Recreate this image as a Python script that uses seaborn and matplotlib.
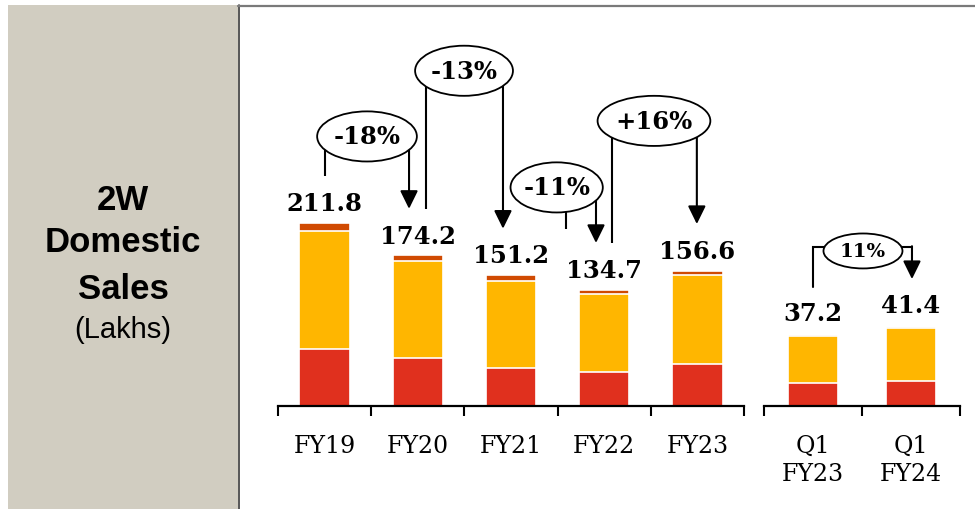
import numpy as np
import pandas as pd
import seaborn as sns
import matplotlib.pyplot as plt
from matplotlib.patches import Ellipse, Rectangle
from matplotlib.lines import Line2D

# data (lakh units)
years = ["FY19", "FY20", "FY21", "FY22", "FY23"]
year_red = [66.0, 55.6, 44.0, 39.4, 48.6]
year_yellow = [137.0, 112.0, 100.7, 90.3, 103.0]
year_top = [8.8, 6.6, 6.5, 5.0, 5.0]
year_totals = [211.8, 174.2, 151.2, 134.7, 156.6]
year_changes = ["-18%", "-13%", "-11%", "+16%"]

quarters = ["Q1\nFY23", "Q1\nFY24"]
q_red = [12.1, 13.2]
q_yellow = [24.6, 28.0]
q_top = [0.5, 0.2]
q_totals = [37.2, 41.4]
q_change = "11%"

RED = "#E0301E"
YELLOW = "#FFB600"
DARK = "#D04A02"

sns.set_style("white")
plt.rcParams["font.family"] = ["DejaVu Serif"]
plt.rcParams["text.color"] = "black"
plt.rcParams["xtick.color"] = "black"
plt.rcParams["xtick.labelcolor"] = "black"

W, H = 975, 510
fig = plt.figure(figsize=(W / 100, H / 100), dpi=100)

# grey title panel on the left
fig.add_artist(Rectangle((8 / W, 0), 230 / W, 1 - 6 / H, transform=fig.transFigure,
                         facecolor="#D1CDC1", edgecolor="none", zorder=0))
fig.add_artist(Line2D([238.5 / W, 238.5 / W], [0, 1 - 6 / H], color="#3a3a3a", lw=1.2))
fig.add_artist(Line2D([238 / W, 1], [1 - 6.5 / H, 1 - 6.5 / H], color="#7a7a7a", lw=1.6))

sans = ["Liberation Sans", "DejaVu Sans"]
for txt, y, bold, fs in [("2W", 201, True, 25), ("Domestic", 243, True, 25),
                         ("Sales", 290, True, 25), ("(Lakhs)", 330, False, 21)]:
    fig.text(123 / W, 1 - y / H, txt, ha="center", va="center", fontsize=fs,
             fontweight="bold" if bold else "normal", family=sans, color="black")

base = 407
ax1 = fig.add_axes([278 / W, (H - base) / H, 466 / W, (base - 8) / H])
ax2 = fig.add_axes([764 / W, (H - base) / H, 196 / W, (base - 8) / H])


def stacked(ax, cats, red, yellow, top, width):
    df = pd.DataFrame({"cat": cats, "red": red, "yellow": yellow, "top": top})
    df["mid"] = df["red"] + df["yellow"]
    df["all"] = df["mid"] + df["top"]
    for col, c in [("all", DARK), ("mid", YELLOW), ("red", RED)]:
        sns.barplot(data=df, x="cat", y=col, order=cats, color=c, saturation=1,
                    width=width, edgecolor="white", linewidth=1.2, ax=ax)
    n = len(cats)
    ax.set_xlim(-0.5, n - 0.5)
    ax.set_xticks(np.arange(n + 1) - 0.5)
    ax.set_xticklabels([])
    ax.set_xticks(range(n), labels=cats, minor=True)
    ax.tick_params(axis="x", which="major", bottom=True, length=7, width=1.5,
                   direction="out", color="black")
    ax.tick_params(axis="x", which="minor", bottom=True, length=0, pad=20,
                   labelsize=17, labelcolor="black")
    for t in ax.get_xticklabels(minor=True):
        t.set_linespacing(1.3)
        t.set_va("top")
    ax.set_yticks([])
    ax.set_xlabel("")
    ax.set_ylabel("")
    for s in ["top", "left", "right"]:
        ax.spines[s].set_visible(False)
    ax.spines["bottom"].set_color("black")
    ax.spines["bottom"].set_linewidth(1.6)
    ax.patch.set_alpha(0)


stacked(ax1, years, year_red, year_yellow, year_top, 0.54)
stacked(ax2, quarters, q_red, q_yellow, q_top, 0.52)
ax1.set_ylim(0, (base - 8) / 0.864)
ax2.set_ylim(0, (base - 8) / 1.9)

for i, v in enumerate(year_totals):
    ax1.text(i, v + 23, f"{v:.1f}", ha="center", va="center", fontsize=17.5, fontweight="bold")
for i, v in enumerate(q_totals):
    ax2.text(i, v + 11.5, f"{v:.1f}", ha="center", va="center", fontsize=17.5, fontweight="bold")


def bubble(ax, label, cx, cy, w, h, fs):
    ax.add_patch(Ellipse((cx, cy), w, h, facecolor="white", edgecolor="black", lw=1.3, zorder=4))
    ax.text(cx, cy, label, ha="center", va="center", fontsize=fs, fontweight="bold", zorder=5)


def arrow(ax, x, y0, y1):
    ax.annotate("", xy=(x, y1), xytext=(x, y0), zorder=3,
                arrowprops=dict(arrowstyle="-|>,head_length=0.55,head_width=0.27",
                                mutation_scale=20, lw=1.5, color="black",
                                shrinkA=0, shrinkB=0))


# bubble centre x, centre y, width, left line x, right arrow x
bubble_layout = [
    (0.455, 312, 1.07, 0.0, 0.906),
    (1.496, 388, 1.05, 1.088, 1.914),
    (2.49, 253, 0.99, 2.586, 2.912),
    (3.534, 330, 1.21, 3.084, 3.994),
]
for i, (label, (cx, cy, w, lx, rx)) in enumerate(zip(year_changes, bubble_layout)):
    ax1.plot([lx, lx], [cy, year_totals[i] + 54], color="black", lw=1.5, zorder=3,
             solid_capstyle="butt")
    arrow(ax1, rx, cy, year_totals[i + 1] + 54)
    bubble(ax1, label, cx, cy, w, 58, 17.5)

# quarter comparison bracket
hy = 83.7
ax2.plot([0.0, 0.0, 0.5], [q_totals[0] + 25.4, hy, hy], color="black", lw=1.5, zorder=3,
         solid_joinstyle="miter")
ax2.plot([0.5, 1.01], [hy, hy], color="black", lw=1.5, zorder=3)
arrow(ax2, 1.01, hy + 0.4, q_totals[1] + 25.4)
bubble(ax2, q_change, 0.51, 81.6, 0.806, 18.4, 14)

fig.savefig("out.png", dpi=100)
